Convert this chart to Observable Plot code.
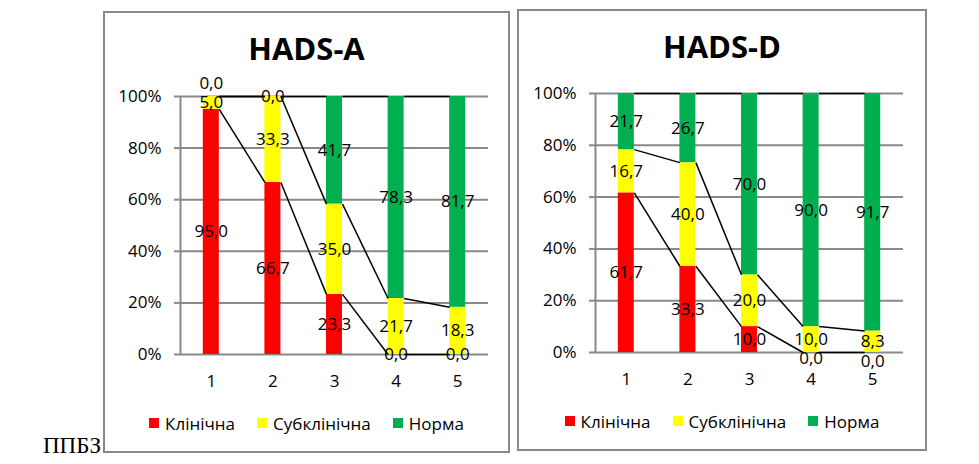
<!DOCTYPE html>
<html><head><meta charset="utf-8">
<script src="https://cdn.jsdelivr.net/npm/d3@7"></script>
<script src="https://cdn.jsdelivr.net/npm/@observablehq/plot@0.6"></script>
<style>
body{margin:0;background:#fff;}
#page{position:relative;width:979px;height:464px;overflow:hidden;font-family:"Open Sans",sans-serif;color:#000;}
.panel{position:absolute;box-sizing:border-box;border:2px solid #898989;background:#fff;}
.title{position:absolute;left:0;right:0;top:20px;text-align:center;font-weight:bold;font-size:31px;line-height:31px;}
.legend{position:absolute;left:0;right:0;top:398px;height:24px;display:flex;justify-content:center;align-items:center;gap:22px;font-size:17px;}
.item{display:flex;align-items:center;gap:6px;}
.sw{width:10px;height:10px;display:inline-block;}
.plotbox{position:absolute;}
#note{position:absolute;left:43px;top:434px;font-family:"Liberation Serif",serif;font-size:23px;line-height:23px;}
</style></head>
<body><div id="page"></div>
<script>
const categories = [1, 2, 3, 4, 5];
const seriesNames = ["Клінічна", "Субклінічна", "Норма"];
const seriesColors = ["#ff0000", "#ffff00", "#00b050"];
const yTicks = [0, 20, 40, 60, 80, 100];

const hadsA_title = "HADS-A";
const hadsA_clinical = [95.0, 66.7, 23.3, 0.0, 0.0];
const hadsA_subclinical = [5.0, 33.3, 35.0, 21.7, 18.3];
const hadsA_norm = [0.0, 0.0, 41.7, 78.3, 81.7];

const hadsD_title = "HADS-D";
const hadsD_clinical = [61.7, 33.3, 10.0, 0.0, 0.0];
const hadsD_subclinical = [16.7, 40.0, 20.0, 10.0, 8.3];
const hadsD_norm = [21.7, 26.7, 70.0, 90.0, 91.7];

const noteText = "ППБЗ";

const fmt = v => v.toFixed(1).replace(".", ",");
const HW = 0.13;       // half bar width in category units
const SHIFT = 7.5;     // label collision distance in % units

function build(series) {
  const bars = [], labels = [], tops = seriesNames.map(() => []);
  categories.forEach((c, i) => {
    const total = series.reduce((a, s) => a + s[i], 0);
    let base = 0;
    const segs = [];
    series.forEach((s, j) => {
      const v = s[i];
      const y1 = base / total * 100, y2 = (base + v) / total * 100;
      segs.push({x: c, s: seriesNames[j], v, y1, y2, mid: (y1 + y2) / 2});
      tops[j].push({x: c, y: y2});
      base += v;
    });
    segs.forEach(seg => {
      let pos = seg.mid;
      if (seg.v === 0) {
        const others = segs.filter(o => o !== seg && o.v !== 0);
        const near = others.reduce((a, o) => (a == null || Math.abs(o.mid - pos) < Math.abs(a.mid - pos)) ? o : a, null);
        if (near && Math.abs(near.mid - pos) < SHIFT) {
          const dir = pos >= 50 ? 1 : -1;
          pos = near.mid + dir * SHIFT;
        }
      }
      labels.push({x: c, y: pos, text: fmt(seg.v)});
      bars.push(seg);
    });
  });
  const links = [];
  tops.forEach(t => {
    for (let k = 0; k < t.length - 1; k++) {
      links.push({x1: t[k].x + HW, y1: t[k].y, x2: t[k + 1].x - HW, y2: t[k + 1].y});
    }
  });
  return {bars, labels, links};
}

function chart(series, mb) {
  const {bars, labels, links} = build(series);
  return Plot.plot({
    width: 400, height: 330,
    marginLeft: 77, marginRight: 15, marginTop: 26, marginBottom: mb,
    x: {domain: [0.5, 5.5]},
    y: {domain: [0, 100]},
    color: {domain: seriesNames, range: seriesColors},
    style: {fontFamily: "Open Sans", fontSize: "17px", color: "#000", background: "transparent", overflow: "visible"},
    marks: [
      Plot.gridY(yTicks, {stroke: "#898989", strokeOpacity: 1, strokeWidth: 2}),
      Plot.axisY({ticks: yTicks, tickSize: 6, tickPadding: 13, tickFormat: d => d + "%", stroke: "#898989", strokeWidth: 2, label: null, fontSize: 17}),
      Plot.ruleX([0.5], {stroke: "#898989", strokeWidth: 2}),
      Plot.rectY(bars, {x1: d => d.x - HW, x2: d => d.x + HW, y1: "y1", y2: "y2", fill: "s"}),
      Plot.link(links, {x1: "x1", y1: "y1", x2: "x2", y2: "y2", stroke: "#000", strokeWidth: 1.5}),
      Plot.text(labels, {x: "x", y: "y", text: "text", fontSize: 17, fill: "#000"}),
      Plot.axisX({ticks: categories, tickSize: 0, tickPadding: 20, tickFormat: d => String(d), label: null, fontSize: 17})
    ]
  });
}

const page = document.getElementById("page");
const note = document.createElement("div");
note.id = "note"; note.textContent = noteText;
page.appendChild(note);

function panel(title, series, box, svgPos, mb) {
  const p = document.createElement("div");
  p.className = "panel";
  Object.assign(p.style, {left: box[0] + "px", top: box[1] + "px", width: box[2] + "px", height: box[3] + "px"});
  const t = document.createElement("div");
  t.className = "title"; t.textContent = title;
  p.appendChild(t);
  const lg = document.createElement("div");
  lg.className = "legend";
  seriesNames.forEach((n, j) => {
    const it = document.createElement("span");
    it.className = "item";
    const sw = document.createElement("span");
    sw.className = "sw"; sw.style.background = seriesColors[j];
    it.appendChild(sw);
    it.appendChild(document.createTextNode(n));
    lg.appendChild(it);
  });
  p.appendChild(lg);
  page.appendChild(p);
  const holder = document.createElement("div");
  holder.className = "plotbox";
  holder.style.left = svgPos[0] + "px"; holder.style.top = svgPos[1] + "px";
  holder.appendChild(chart(series, mb));
  page.appendChild(holder);
}

panel(hadsA_title, [hadsA_clinical, hadsA_subclinical, hadsA_norm], [103, 11, 407, 442], [103, 70], 46);
panel(hadsD_title, [hadsD_clinical, hadsD_subclinical, hadsD_norm], [517, 9, 410, 442], [518, 67], 45);
</script></body></html>
